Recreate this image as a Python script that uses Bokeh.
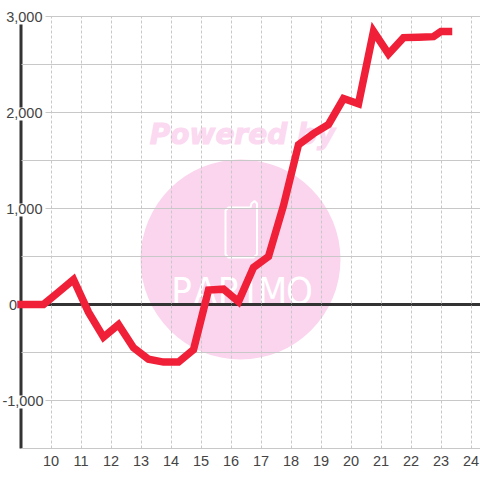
from bokeh.plotting import figure
from bokeh.models import Range1d, FixedTicker, LinearAxis, Grid
from bokeh.core.properties import value
from bokeh.embed import file_html
from bokeh.resources import INLINE

hours = [9.0, 9.75, 10.25, 10.75, 11.25, 11.75, 12.25, 12.75, 13.25, 13.75, 14.25, 14.75,
         15.25, 15.75, 16.25, 16.75, 17.25, 17.75, 18.25, 18.75, 19.25, 19.75, 20.25,
         20.75, 21.25, 21.75, 22.25, 22.75, 23.0, 23.25]
profit = [0, 0, 130, 260, -80, -340, -210, -450, -570, -600, -600, -470,
          150, 160, 30, 385, 500, 1030, 1665, 1780, 1875, 2145, 2090,
          2845, 2610, 2780, 2785, 2790, 2845, 2845]
x_ticks = list(range(10, 25))
y_ticks = [-1500, -1000, -500, 500, 1000, 1500, 2000, 2500, 3000]
y_labels = {-1500: "", -1000: "", -500: "", 500: "", 1000: "1,000",
            1500: "", 2000: "2,000", 2500: "", 3000: "3,000"}
labelled = [-1000, 1000, 2000, 3000]

# pixel helpers for the decorative watermark and layout only
def X(px): return 10 + (px - 50.5) / 30
def Y(py): return (304 - py) / 0.096

p = figure(width=480, height=480, output_backend="svg", toolbar_location=None,
           x_range=Range1d(X(0), X(480)), y_range=Range1d(Y(480), Y(0)),
           x_axis_location=None, y_axis_location=None, min_border=0,
           background_fill_color="white", border_fill_color="white")
p.styles = {"position": "absolute", "left": "0px", "top": "0px"}
p.outline_line_color = None
p.xgrid.visible = False
p.ygrid.visible = False

GRID = "#c8c8c8"; DARK = "#333333"; TXT = "#444444"; PINK = "#fbd5ee"
FONT = "Liberation Sans"

# watermark
p.scatter([X(240)], [Y(259)], size=200, marker="circle", fill_color=PINK, line_color=None, level="image")
p.text([X(242)], [Y(134)], text=["Powered by"], text_font=value("DejaVu Sans"), text_font_style="bold italic",
       text_font_size="28px", text_color="#fbd9f0", outline_color="#fbd9f0", text_align="center",
       text_baseline="middle", level="image")
p.line([X(a) for a in [250, 228, 225, 225, 228, 253, 256.5, 256.5, 254, 251, 250]],
       [Y(b) for b in [207, 207, 210, 254, 257, 257, 254, 203, 200.5, 203, 207]],
       line_color="white", line_width=2, level="image")
letters = list("PARIMO")
centers = [181, 205, 229, 250, 272, 299]
p.text([X(c) for c in centers], [Y(290)] * 6, text=letters, text_font=value("DejaVu Sans Condensed, DejaVu Sans"),
       text_font_size="38px", text_color="white", text_align="center", text_baseline="middle", level="image")

# axes and grids
yax = LinearAxis(ticker=FixedTicker(ticks=y_ticks), major_label_overrides=y_labels,
                 fixed_location=X(50), axis_line_color=None, major_tick_line_color=None,
                 minor_tick_line_color=None, major_label_standoff=2,
                 major_label_text_font=FONT, major_label_text_font_size="14.5px",
                 major_label_text_color=TXT)
xax = LinearAxis(ticker=FixedTicker(ticks=x_ticks),
                 fixed_location=-1500, axis_line_color=None, major_tick_line_color=None,
                 minor_tick_line_color=None, major_label_standoff=1,
                 major_label_text_font=FONT, major_label_text_font_size="14.5px",
                 major_label_text_color=TXT)
p.add_layout(yax, "left")
p.add_layout(xax, "below")
p.add_layout(Grid(dimension=1, axis=yax, grid_line_color=GRID, grid_line_width=1, cross_bounds=(9, X(480))))
p.add_layout(Grid(dimension=0, axis=xax, grid_line_color=GRID, grid_line_width=1, grid_line_dash="3 2",
                  cross_bounds=(-1500, 3000)))

# axis lines
p.segment([9, 9], [-1500, 0], [9, X(480)], [3000, 0], line_color=DARK, line_width=3, level="underlay")

# white boxes behind tick labels
p.hbar(y=[v + Y(113.5) - Y(112) for v in labelled], height=13 / 0.096, left=X(0), right=X(45),
       fill_color="white", line_color=None)
p.hbar(y=[Y(304)], height=13 / 0.096, left=X(0), right=X(18), fill_color="white", line_color=None)
p.text([X(16.5)], [0], text=["0"], text_font=value(FONT), text_font_size="14.5px",
       text_color=TXT, text_align="right", text_baseline="middle")
p.text([X(43)], [-1000], text=["-1,000"], text_font=value(FONT), text_font_size="14.5px",
       text_color=TXT, text_align="right", text_baseline="middle")

p.line(hours, profit, line_color="#ef2038", line_width=7.5, line_cap="square", line_join="miter")

open("out.html", "w").write(file_html(p, INLINE))
